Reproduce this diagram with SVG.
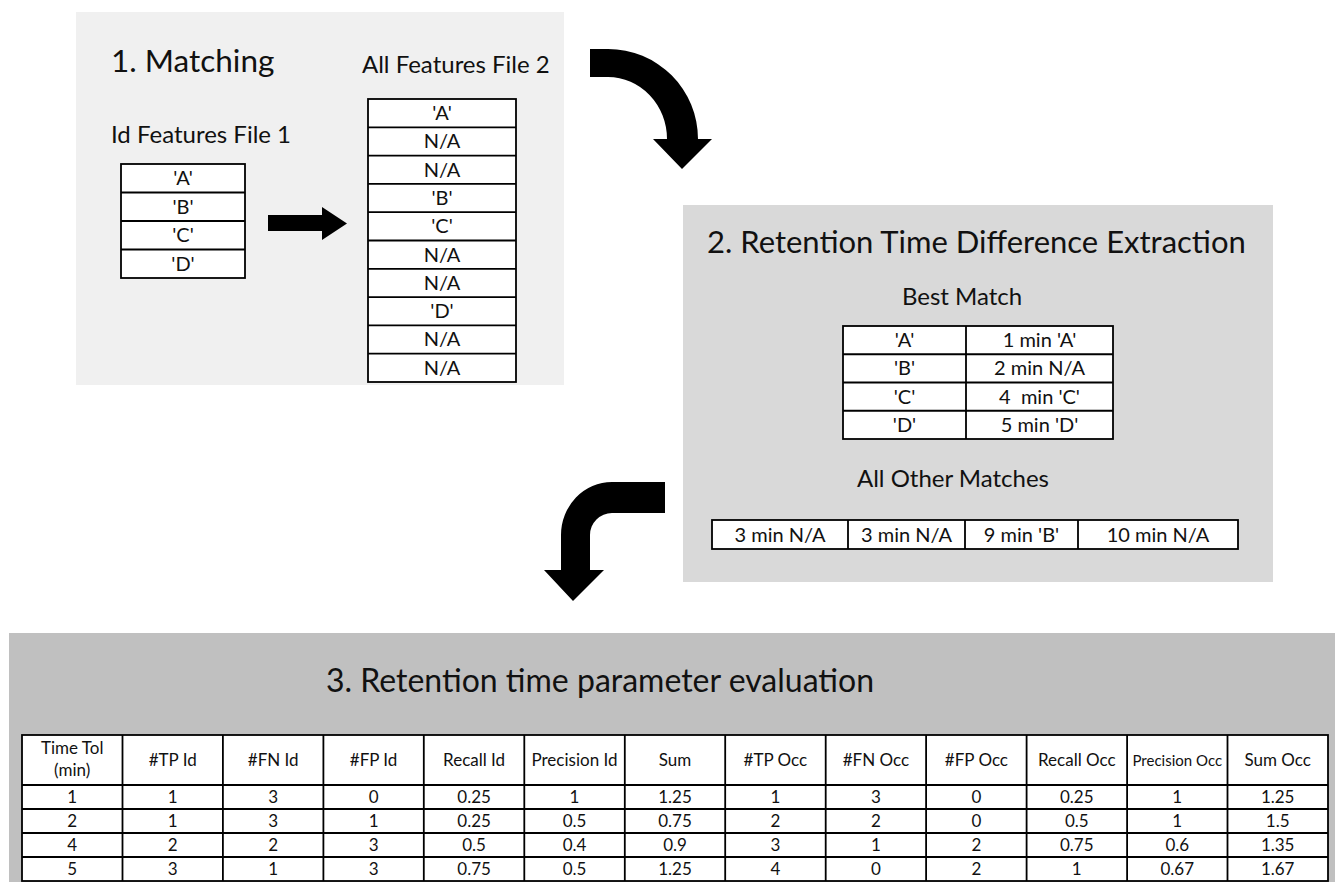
<svg xmlns="http://www.w3.org/2000/svg" width="1335" height="882" viewBox="0 0 1335 882">
<style>
text{font-family:Lato,"Open Sans","Liberation Sans",sans-serif;fill:#111}
.title{font-size:31.5px}
.t2{font-size:31px}
.t3{font-size:32px}
.sub{font-size:24px}
.cell{font-size:20px;text-anchor:middle}
.tc{font-size:17px;text-anchor:middle}
.tcs{font-size:15px;text-anchor:middle}
.box{fill:#fff;stroke:#000;stroke-width:1.8}
.ln{stroke:#000;stroke-width:1.8;fill:none}
.arrow{fill:#000}
</style>
<rect width="1335" height="882" fill="#fff"/>

<g id="panel1">
<rect x="76" y="12" width="488" height="373" fill="#f0f0f0"/>
<text class="title" x="111" y="72">1. Matching</text>
<text class="sub" x="362" y="73">All Features File 2</text>
<text class="sub" x="111" y="143">Id Features File 1</text>
</g>

<g id="id-features-file1">
<rect class="box" x="121" y="164" width="124" height="114"/>
<path class="ln" d="M121,192.5H245M121,221H245M121,249.5H245"/>
<text class="cell" x="183" y="185">'A'</text>
<text class="cell" x="183" y="213.5">'B'</text>
<text class="cell" x="183" y="242">'C'</text>
<text class="cell" x="183" y="270.5">'D'</text>
</g>

<g id="all-features-file2">
<rect class="box" x="368" y="99" width="148" height="283"/>
<path class="ln" d="M368,127.3H516M368,155.6H516M368,183.9H516M368,212.2H516M368,240.5H516M368,268.8H516M368,297.1H516M368,325.4H516M368,353.7H516"/>
<text class="cell" x="442" y="120">'A'</text>
<text class="cell" x="442" y="148.3">N/A</text>
<text class="cell" x="442" y="176.6">N/A</text>
<text class="cell" x="442" y="204.9">'B'</text>
<text class="cell" x="442" y="233.2">'C'</text>
<text class="cell" x="442" y="261.5">N/A</text>
<text class="cell" x="442" y="289.8">N/A</text>
<text class="cell" x="442" y="318.1">'D'</text>
<text class="cell" x="442" y="346.4">N/A</text>
<text class="cell" x="442" y="374.7">N/A</text>
</g>

<g id="panel2">
<rect x="683" y="205" width="590" height="377" fill="#d9d9d9"/>
<text class="t2" x="707" y="253">2. Retention Time Difference Extraction</text>
<text class="sub" x="962" y="305" text-anchor="middle">Best Match</text>
<text class="sub" x="953" y="487" text-anchor="middle">All Other Matches</text>
</g>

<g id="best-match">
<rect class="box" x="843" y="326" width="270" height="113"/>
<path class="ln" d="M966,326V439M843,354.25H1113M843,382.5H1113M843,410.75H1113"/>
<text class="cell" x="904.5" y="347">'A'</text>
<text class="cell" x="904.5" y="375.25">'B'</text>
<text class="cell" x="904.5" y="403.5">'C'</text>
<text class="cell" x="904.5" y="431.75">'D'</text>
<text class="cell" x="1039.5" y="347">1 min 'A'</text>
<text class="cell" x="1039.5" y="375.25">2 min N/A</text>
<text class="cell" x="1039.5" y="403.5" xml:space="preserve">4  min 'C'</text>
<text class="cell" x="1039.5" y="431.75">5 min 'D'</text>
</g>

<g id="other-matches">
<rect class="box" x="712" y="520" width="526" height="29"/>
<path class="ln" d="M848,520V549M965,520V549M1078,520V549"/>
<text class="cell" x="780" y="541.5">3 min N/A</text>
<text class="cell" x="906.5" y="541.5">3 min N/A</text>
<text class="cell" x="1021.5" y="541.5">9 min 'B'</text>
<text class="cell" x="1158" y="541.5">10 min N/A</text>
</g>

<g id="panel3">
<rect x="9" y="633" width="1326" height="249" fill="#c0c0c0"/>
<text class="t3" x="600" y="692" text-anchor="middle">3. Retention time parameter evaluation</text>
</g>

<g id="evaluation-table">
<rect class="box" x="22" y="735" width="1306" height="146"/>
<path class="ln" d="M122.5,735V881M222.9,735V881M323.4,735V881M423.8,735V881M524.3,735V881M624.8,735V881M725.2,735V881M825.7,735V881M926.1,735V881M1026.6,735V881M1127.1,735V881M1227.5,735V881"/>
<path class="ln" d="M22,785H1328M22,809H1328M22,833H1328M22,857H1328"/>
<text class="tc" x="72.2" y="754">Time Tol</text>
<text class="tc" x="72.2" y="776">(min)</text>
<text class="tc" x="172.7" y="766">#TP Id</text>
<text class="tc" x="273.2" y="766">#FN Id</text>
<text class="tc" x="373.6" y="766">#FP Id</text>
<text class="tc" x="474.1" y="766">Recall Id</text>
<text class="tc" x="574.5" y="766">Precision Id</text>
<text class="tc" x="675" y="766">Sum</text>
<text class="tc" x="775.4" y="766">#TP Occ</text>
<text class="tc" x="875.9" y="766">#FN Occ</text>
<text class="tc" x="976.4" y="766">#FP Occ</text>
<text class="tc" x="1076.8" y="766">Recall Occ</text>
<text class="tcs" x="1177.3" y="766">Precision Occ</text>
<text class="tc" x="1277.7" y="766">Sum Occ</text>

<text class="tc" x="72.2" y="803">1</text><text class="tc" x="172.7" y="803">1</text><text class="tc" x="273.2" y="803">3</text><text class="tc" x="373.6" y="803">0</text><text class="tc" x="474.1" y="803">0.25</text><text class="tc" x="574.5" y="803">1</text><text class="tc" x="675" y="803">1.25</text><text class="tc" x="775.4" y="803">1</text><text class="tc" x="875.9" y="803">3</text><text class="tc" x="976.4" y="803">0</text><text class="tc" x="1076.8" y="803">0.25</text><text class="tc" x="1177.3" y="803">1</text><text class="tc" x="1277.7" y="803">1.25</text>

<text class="tc" x="72.2" y="827">2</text><text class="tc" x="172.7" y="827">1</text><text class="tc" x="273.2" y="827">3</text><text class="tc" x="373.6" y="827">1</text><text class="tc" x="474.1" y="827">0.25</text><text class="tc" x="574.5" y="827">0.5</text><text class="tc" x="675" y="827">0.75</text><text class="tc" x="775.4" y="827">2</text><text class="tc" x="875.9" y="827">2</text><text class="tc" x="976.4" y="827">0</text><text class="tc" x="1076.8" y="827">0.5</text><text class="tc" x="1177.3" y="827">1</text><text class="tc" x="1277.7" y="827">1.5</text>

<text class="tc" x="72.2" y="851">4</text><text class="tc" x="172.7" y="851">2</text><text class="tc" x="273.2" y="851">2</text><text class="tc" x="373.6" y="851">3</text><text class="tc" x="474.1" y="851">0.5</text><text class="tc" x="574.5" y="851">0.4</text><text class="tc" x="675" y="851">0.9</text><text class="tc" x="775.4" y="851">3</text><text class="tc" x="875.9" y="851">1</text><text class="tc" x="976.4" y="851">2</text><text class="tc" x="1076.8" y="851">0.75</text><text class="tc" x="1177.3" y="851">0.6</text><text class="tc" x="1277.7" y="851">1.35</text>

<text class="tc" x="72.2" y="875">5</text><text class="tc" x="172.7" y="875">3</text><text class="tc" x="273.2" y="875">1</text><text class="tc" x="373.6" y="875">3</text><text class="tc" x="474.1" y="875">0.75</text><text class="tc" x="574.5" y="875">0.5</text><text class="tc" x="675" y="875">1.25</text><text class="tc" x="775.4" y="875">4</text><text class="tc" x="875.9" y="875">0</text><text class="tc" x="976.4" y="875">2</text><text class="tc" x="1076.8" y="875">1</text><text class="tc" x="1177.3" y="875">0.67</text><text class="tc" x="1277.7" y="875">1.67</text>
</g>

<g id="connectors">
<path class="arrow" d="M268,215H322V207L347,223.5L322,240V231H268Z"/>
<path class="arrow" d="M590,49H608A90,90 0 0 1 698,139H712L682,169L653,139H667A59,62 0 0 0 608,77H590Z"/>
<path class="arrow" d="M665,482V513H612A22,22 0 0 0 590,535V570H604L573,601L544,570H561V535A51,53 0 0 1 612,482Z"/>
</g>
</svg>
